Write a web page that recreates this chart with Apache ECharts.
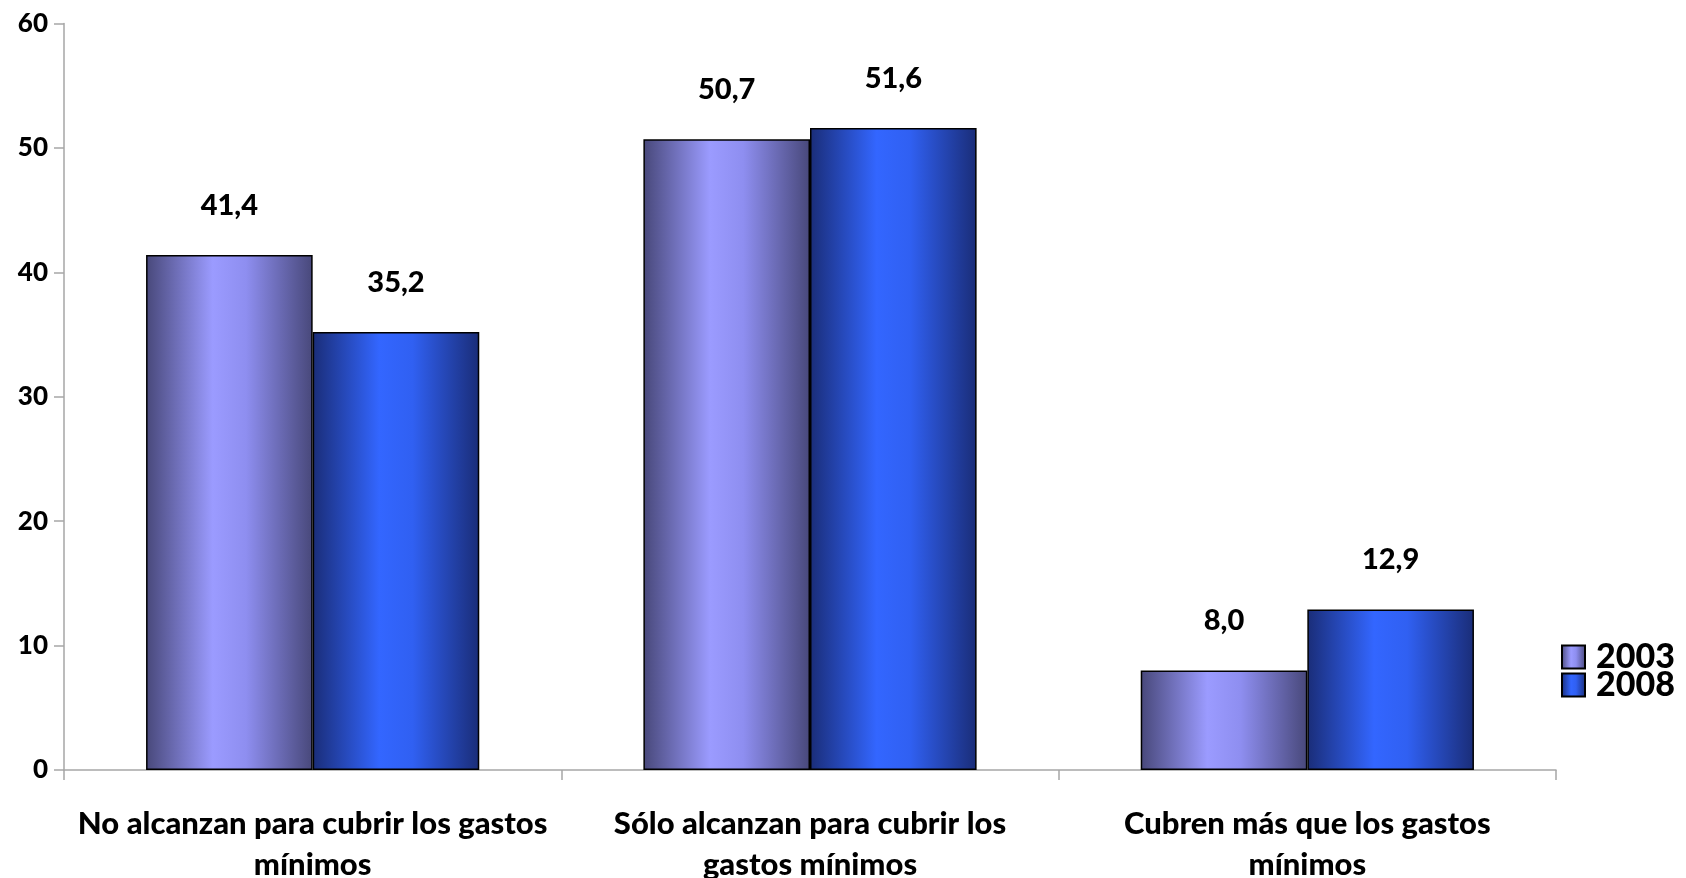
<!DOCTYPE html>
<html>
<head>
<meta charset="utf-8">
<script src="https://cdn.jsdelivr.net/npm/echarts@6/dist/echarts.min.js"></script>
<style>html,body{margin:0;padding:0;background:#fff}#c{width:1686px;height:878px}</style>
</head>
<body>
<div id="c"></div>
<script>
var categories = ['No alcanzan para cubrir los gastos\nmínimos', 'Sólo alcanzan para cubrir los\ngastos mínimos', 'Cubren más que los gastos\nmínimos'];
var seriesNames = ['2003', '2008'];
var values2003 = [41.4, 50.7, 8.0];
var values2008 = [35.2, 51.6, 12.9];
var yTicks = [0, 10, 20, 30, 40, 50, 60];

var FONT = 'Lato';
var W = 900;
function grad(edge, mid, mid2) {
  return new echarts.graphic.LinearGradient(0, 0, 1, 0, [
    {offset: 0, color: edge},
    {offset: 0.4, color: mid},
    {offset: 0.6, color: mid2},
    {offset: 1, color: edge}
  ]);
}
function fmt(v) { return v.toFixed(1).replace('.', ','); }

var chart = echarts.init(document.getElementById('c'));
var labelCfg = {
  show: true, position: 'top', distance: 35,
  fontFamily: FONT, fontWeight: W, fontSize: 29, color: '#000',
  formatter: function (p) { return fmt(p.value); }
};
function legendCfg(name, top) {
  return {
    orient: 'vertical', left: 1556, top: top, icon: 'rect',
    itemWidth: 23, itemHeight: 23,
    data: [name],
    textStyle: {fontFamily: FONT, fontWeight: W, fontSize: 34, color: '#000', padding: [0, 0, 0, 6]}
  };
}
chart.setOption({
  animation: false,
  grid: {left: 64, right: 130, top: 23.6, bottom: 108, containLabel: false, outerBoundsMode: 'none'},
  legend: [legendCfg(seriesNames[0], 635), legendCfg(seriesNames[1], 663)],
  xAxis: {
    type: 'category', data: categories,
    axisLine: {lineStyle: {color: '#a6a6a6', width: 1.5}},
    axisTick: {show: true, length: 10, lineStyle: {color: '#a6a6a6', width: 1.5}},
    axisLabel: {margin: 33, fontFamily: FONT, fontWeight: W, fontSize: 31, color: '#000', lineHeight: 41, interval: 0}
  },
  yAxis: {
    type: 'value', min: 0, max: 60, interval: 10,
    axisLine: {show: true, lineStyle: {color: '#a6a6a6', width: 1.5}},
    axisTick: {show: true, length: 10, lineStyle: {color: '#a6a6a6', width: 1.5}},
    splitLine: {show: false},
    axisLabel: {margin: 16, fontFamily: FONT, fontWeight: W, fontSize: 26, color: '#000',
      formatter: function (v) { return yTicks.indexOf(v) >= 0 ? String(v) : ''; }}
  },
  series: [
    {name: seriesNames[0], type: 'bar', data: values2003, barGap: '0%', barCategoryGap: '33%',
      itemStyle: {color: grad('#48487a', '#9b9bff', '#8e8ef0'), borderColor: '#000', borderWidth: 1.5},
      label: labelCfg},
    {name: seriesNames[1], type: 'bar', data: values2008, barGap: '0%', barCategoryGap: '33%',
      itemStyle: {color: grad('#1a2d78', '#3366ff', '#3060f2'), borderColor: '#000', borderWidth: 1.5},
      label: labelCfg}
  ]
});
</script>
</body>
</html>
